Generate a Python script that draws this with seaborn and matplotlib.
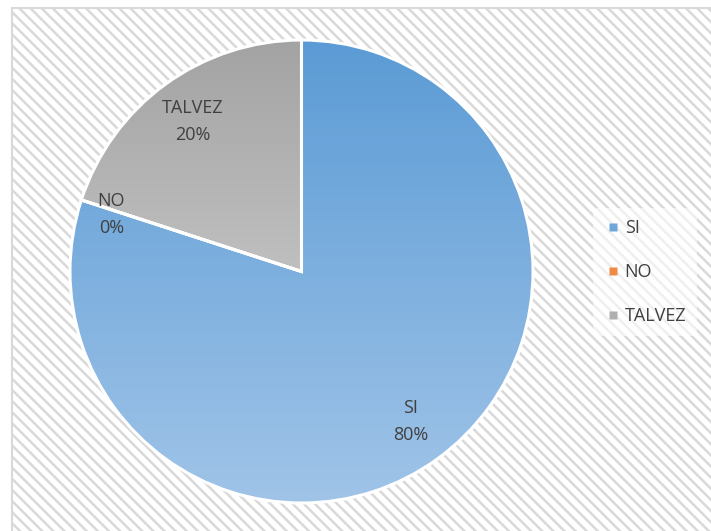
import numpy as np
import matplotlib
matplotlib.use('Agg')
import matplotlib.pyplot as plt
import matplotlib.colors as mcolors
from matplotlib.patches import Rectangle
from matplotlib.lines import Line2D
import seaborn as sns

sns.set_theme(style='white')
plt.rcParams['font.family'] = ['Open Sans', 'DejaVu Sans']

# Datos
categorias = ['SI', 'NO', 'TALVEZ']
valores = [80, 0, 20]
porcentajes = ['80%', '0%', '20%']
# colores: (arriba, abajo) del degradado
colores_arriba = ['#5B9BD5', '#ED7D31', '#A3A3A3']
colores_abajo = ['#A0C4E8', '#F4B183', '#DCDCDC']
colores_leyenda = ['#6FA6DA', '#F08A45', '#B0B0B0']
texto = '#404040'

fig = plt.figure(figsize=(7.11, 5.31), dpi=100)

# fondo rayado con borde
fondo = fig.add_axes([0, 0, 1, 1])
fondo.set_xlim(0, 711)
fondo.set_ylim(531, 0)
fondo.axis('off')
plt.rcParams['hatch.color'] = '#EBEBEB'
plt.rcParams['hatch.linewidth'] = 1.8
fondo.add_patch(Rectangle((12, 8), 720, 540, facecolor='white', edgecolor='#D9D9D9',
                          hatch='\\\\\\', linewidth=1.5))

# torta
cx, cy, r = 301.5, 271.5, 231.5
ax = fig.add_axes([(cx - r) / 711, (531 - cy - r) / 531, 2 * r / 711, 2 * r / 531])
wedges, _ = ax.pie(valores, startangle=90, counterclock=False, radius=1,
                   wedgeprops=dict(edgecolor='white', linewidth=2.2))
ax.set_xlim(-1, 1)
ax.set_ylim(-1, 1)
ax.set_aspect('equal')
ax.axis('off')

grad = np.linspace(0, 1, 256).reshape(-1, 1)
for w, c1, c2 in zip(wedges, colores_arriba, colores_abajo):
    cmap = mcolors.LinearSegmentedColormap.from_list('g', [c1, c2])
    w.set_facecolor('none')
    im = ax.imshow(grad, cmap=cmap, extent=(-1, 1, -1, 1), origin='upper',
                   aspect='auto', zorder=w.get_zorder() - 0.1)
    im.set_clip_path(w)

# etiquetas
total = sum(valores)
ang = 90
for cat, val, pct in zip(categorias, valores, porcentajes):
    mid = ang - 360 * val / total / 2
    ang -= 360 * val / total
    x = 0.8 * np.cos(np.radians(mid))
    y = 0.8 * np.sin(np.radians(mid))
    if val == 0:
        x -= 0.06
    ax.text(x, y, f'{cat}\n{pct}', ha='center', va='center', fontsize=13,
            color=texto, linespacing=1.65, zorder=5)

# leyenda
handles = [Line2D([], [], marker='s', linestyle='none', markersize=6,
                  markerfacecolor=c, markeredgecolor='none') for c in colores_leyenda]
fig.legend(handles, categorias, loc='center left', bbox_to_anchor=(584 / 711, 1 - 272 / 531),
           frameon=True, facecolor='white', edgecolor='none', framealpha=0.6,
           fontsize=13, labelcolor=texto, handletextpad=0.15, labelspacing=1.45,
           handlelength=1.0, borderpad=0.6)

plt.savefig('out.png', dpi=100)
